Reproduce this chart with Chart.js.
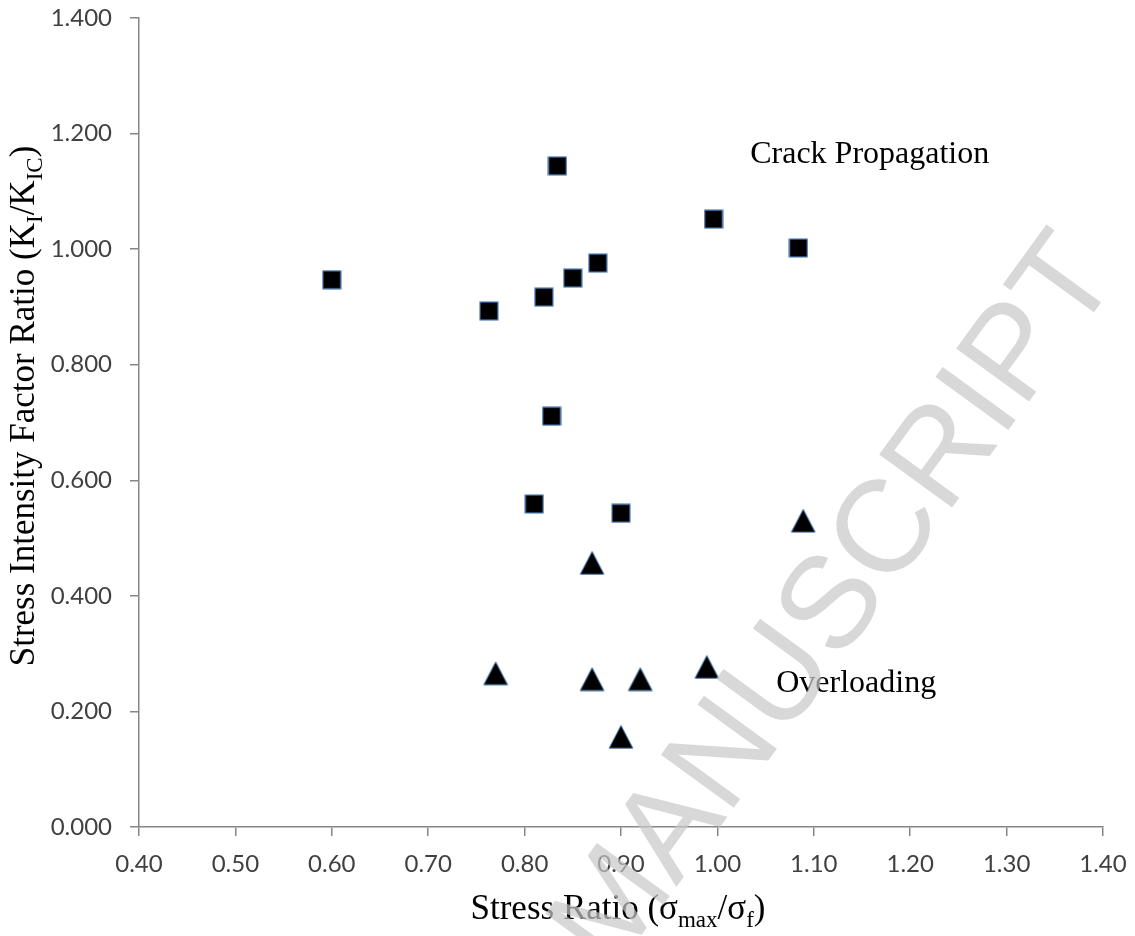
<!DOCTYPE html>
<html>
<head>
<meta charset="utf-8">
<script src="https://cdn.jsdelivr.net/npm/chart.js@4.4.0/dist/chart.umd.min.js"></script>
<style>
html, body { margin: 0; padding: 0; background: #fff; }
#wrap { width: 1135px; height: 936px; }
</style>
</head>
<body>
<div id="wrap"><canvas id="chart"></canvas></div>
<script>
// ====== DATA ======
const crackX = [0.834, 0.996, 0.600, 0.763, 0.820, 0.850, 0.876, 1.084, 0.828, 0.810, 0.900];
const crackY = [1.144, 1.052, 0.947, 0.893, 0.917, 0.950, 0.976, 1.002, 0.711, 0.559, 0.543];
const overX = [1.089, 0.870, 0.770, 0.870, 0.920, 0.989, 0.900];
const overY = [0.530, 0.457, 0.266, 0.256, 0.256, 0.277, 0.156];
const xTickValues = [0.4, 0.5, 0.6, 0.7, 0.8, 0.9, 1.0, 1.1, 1.2, 1.3, 1.4];
const yTickValues = [0, 0.2, 0.4, 0.6, 0.8, 1.0, 1.2, 1.4];

// ====== MARKERS ======
const EDGE = '#4F81BD';
function makeSquare() {
    const c = document.createElement('canvas');
    c.width = 20; c.height = 20;
    const g = c.getContext('2d');
    g.fillStyle = '#000';
    g.fillRect(1, 1, 18, 18);
    g.strokeStyle = EDGE;
    g.lineWidth = 1.2;
    g.strokeRect(1, 1, 18, 18);
    return c;
}
function makeTriangle() {
    const c = document.createElement('canvas');
    c.width = 26; c.height = 25;
    const g = c.getContext('2d');
    g.beginPath();
    g.moveTo(13, 1);
    g.lineTo(25, 24);
    g.lineTo(1, 24);
    g.closePath();
    g.fillStyle = '#000';
    g.fill();
    g.strokeStyle = EDGE;
    g.lineWidth = 1;
    g.stroke();
    return c;
}

// ====== TEXT HELPERS ======
const SERIF = '"Liberation Serif", "Times New Roman", serif';
const titleFont = '35px ' + SERIF;
const subFont = '23px ' + SERIF;
const noteFont = '32px ' + SERIF;

function richWidth(ctx, parts) {
    let w = 0;
    parts.forEach(p => {
        ctx.font = p.sub ? subFont : titleFont;
        w += ctx.measureText(p.t).width;
    });
    return w;
}
function drawRich(ctx, parts, cx, y) {
    let x = cx - richWidth(ctx, parts) / 2;
    ctx.textAlign = 'left';
    ctx.textBaseline = 'alphabetic';
    parts.forEach(p => {
        ctx.font = p.sub ? subFont : titleFont;
        ctx.fillText(p.t, x, y + (p.sub ? 8 : 0));
        x += ctx.measureText(p.t).width;
    });
}

const xTitle = [
    { t: 'Stress Ratio (σ' }, { t: 'max', sub: true }, { t: '/σ' }, { t: 'f', sub: true }, { t: ')' }
];
const yTitle = [
    { t: 'Stress Intensity Factor Ratio (K' }, { t: 'I', sub: true }, { t: '/K' }, { t: 'IC', sub: true }, { t: ')' }
];

const notes = [
    { text: 'Crack Propagation', x: 1.034, y: 1.149 },
    { text: 'Overloading', x: 1.061, y: 0.234 }
];

// ====== PLUGINS ======
const titlesPlugin = {
    id: 'titles',
    afterDraw(chart) {
        const ctx = chart.ctx;
        const xs = chart.scales.x, ys = chart.scales.y;
        ctx.save();
        ctx.fillStyle = '#000';
        drawRich(ctx, xTitle, 618, 919);
        ctx.translate(34, 406);
        ctx.rotate(-Math.PI / 2);
        drawRich(ctx, yTitle, 0, 0);
        ctx.restore();

        ctx.save();
        ctx.fillStyle = '#000';
        ctx.font = noteFont;
        ctx.textAlign = 'left';
        ctx.textBaseline = 'alphabetic';
        notes.forEach(n => {
            ctx.fillText(n.text, xs.getPixelForValue(n.x), ys.getPixelForValue(n.y));
        });
        ctx.restore();

        // watermark, anchored on the centre of the "C"
        ctx.save();
        const size = 131;
        ctx.font = size + 'px "Liberation Sans", Arial, sans-serif';
        const w1 = ctx.measureText('MANUS').width;
        const wc = ctx.measureText('C').width;
        ctx.translate(880, 527);
        ctx.rotate(-54 * Math.PI / 180);
        ctx.textAlign = 'left';
        ctx.textBaseline = 'alphabetic';
        ctx.fillStyle = 'rgba(200, 200, 200, 0.7)';
        ctx.fillText('MANUSCRIPT', -(w1 + wc / 2), size * 0.716 / 2);
        ctx.restore();
    }
};

// ====== CHART ======
const AXIS = '#868686';
const tickFont = { family: 'Lato, "Open Sans", sans-serif', size: 24 };
function noPad(s) {
    s.paddingTop = 0; s.paddingBottom = 0; s.paddingLeft = 0; s.paddingRight = 0;
}

new Chart(document.getElementById('chart'), {
    type: 'scatter',
    data: {
        datasets: [
            {
                label: 'Crack Propagation',
                data: crackX.map((x, i) => ({ x: x, y: crackY[i] })),
                pointStyle: makeSquare(),
                pointRadius: 10
            },
            {
                label: 'Overloading',
                data: overX.map((x, i) => ({ x: x, y: overY[i] })),
                pointStyle: makeTriangle(),
                pointRadius: 12
            }
        ]
    },
    options: {
        responsive: true,
        maintainAspectRatio: false,
        animation: false,
        layout: { padding: { top: 18, right: 32, left: 0, bottom: 0 } },
        plugins: {
            legend: { display: false },
            tooltip: { enabled: false }
        },
        scales: {
            x: {
                type: 'linear',
                min: 0.4,
                max: 1.4,
                afterBuildTicks: s => { s.ticks = xTickValues.map(v => ({ value: v })); },
                afterFit: s => { s.height = 109; noPad(s); },
                border: { color: AXIS, width: 1.5 },
                grid: { drawOnChartArea: false, drawTicks: true, tickLength: 9, color: AXIS, lineWidth: 1.5 },
                ticks: {
                    font: tickFont,
                    color: '#404040',
                    padding: 14,
                    maxRotation: 0,
                    callback: v => Number(v).toFixed(2)
                }
            },
            y: {
                type: 'linear',
                min: 0,
                max: 1.4,
                afterBuildTicks: s => { s.ticks = yTickValues.map(v => ({ value: v })); },
                afterFit: s => { s.width = 139; noPad(s); },
                border: { color: AXIS, width: 1.5 },
                grid: { drawOnChartArea: false, drawTicks: true, tickLength: 9, color: AXIS, lineWidth: 1.5 },
                ticks: {
                    font: tickFont,
                    color: '#404040',
                    padding: 18,
                    callback: v => Number(v).toFixed(3)
                }
            }
        }
    },
    plugins: [titlesPlugin]
});
</script>
</body>
</html>
